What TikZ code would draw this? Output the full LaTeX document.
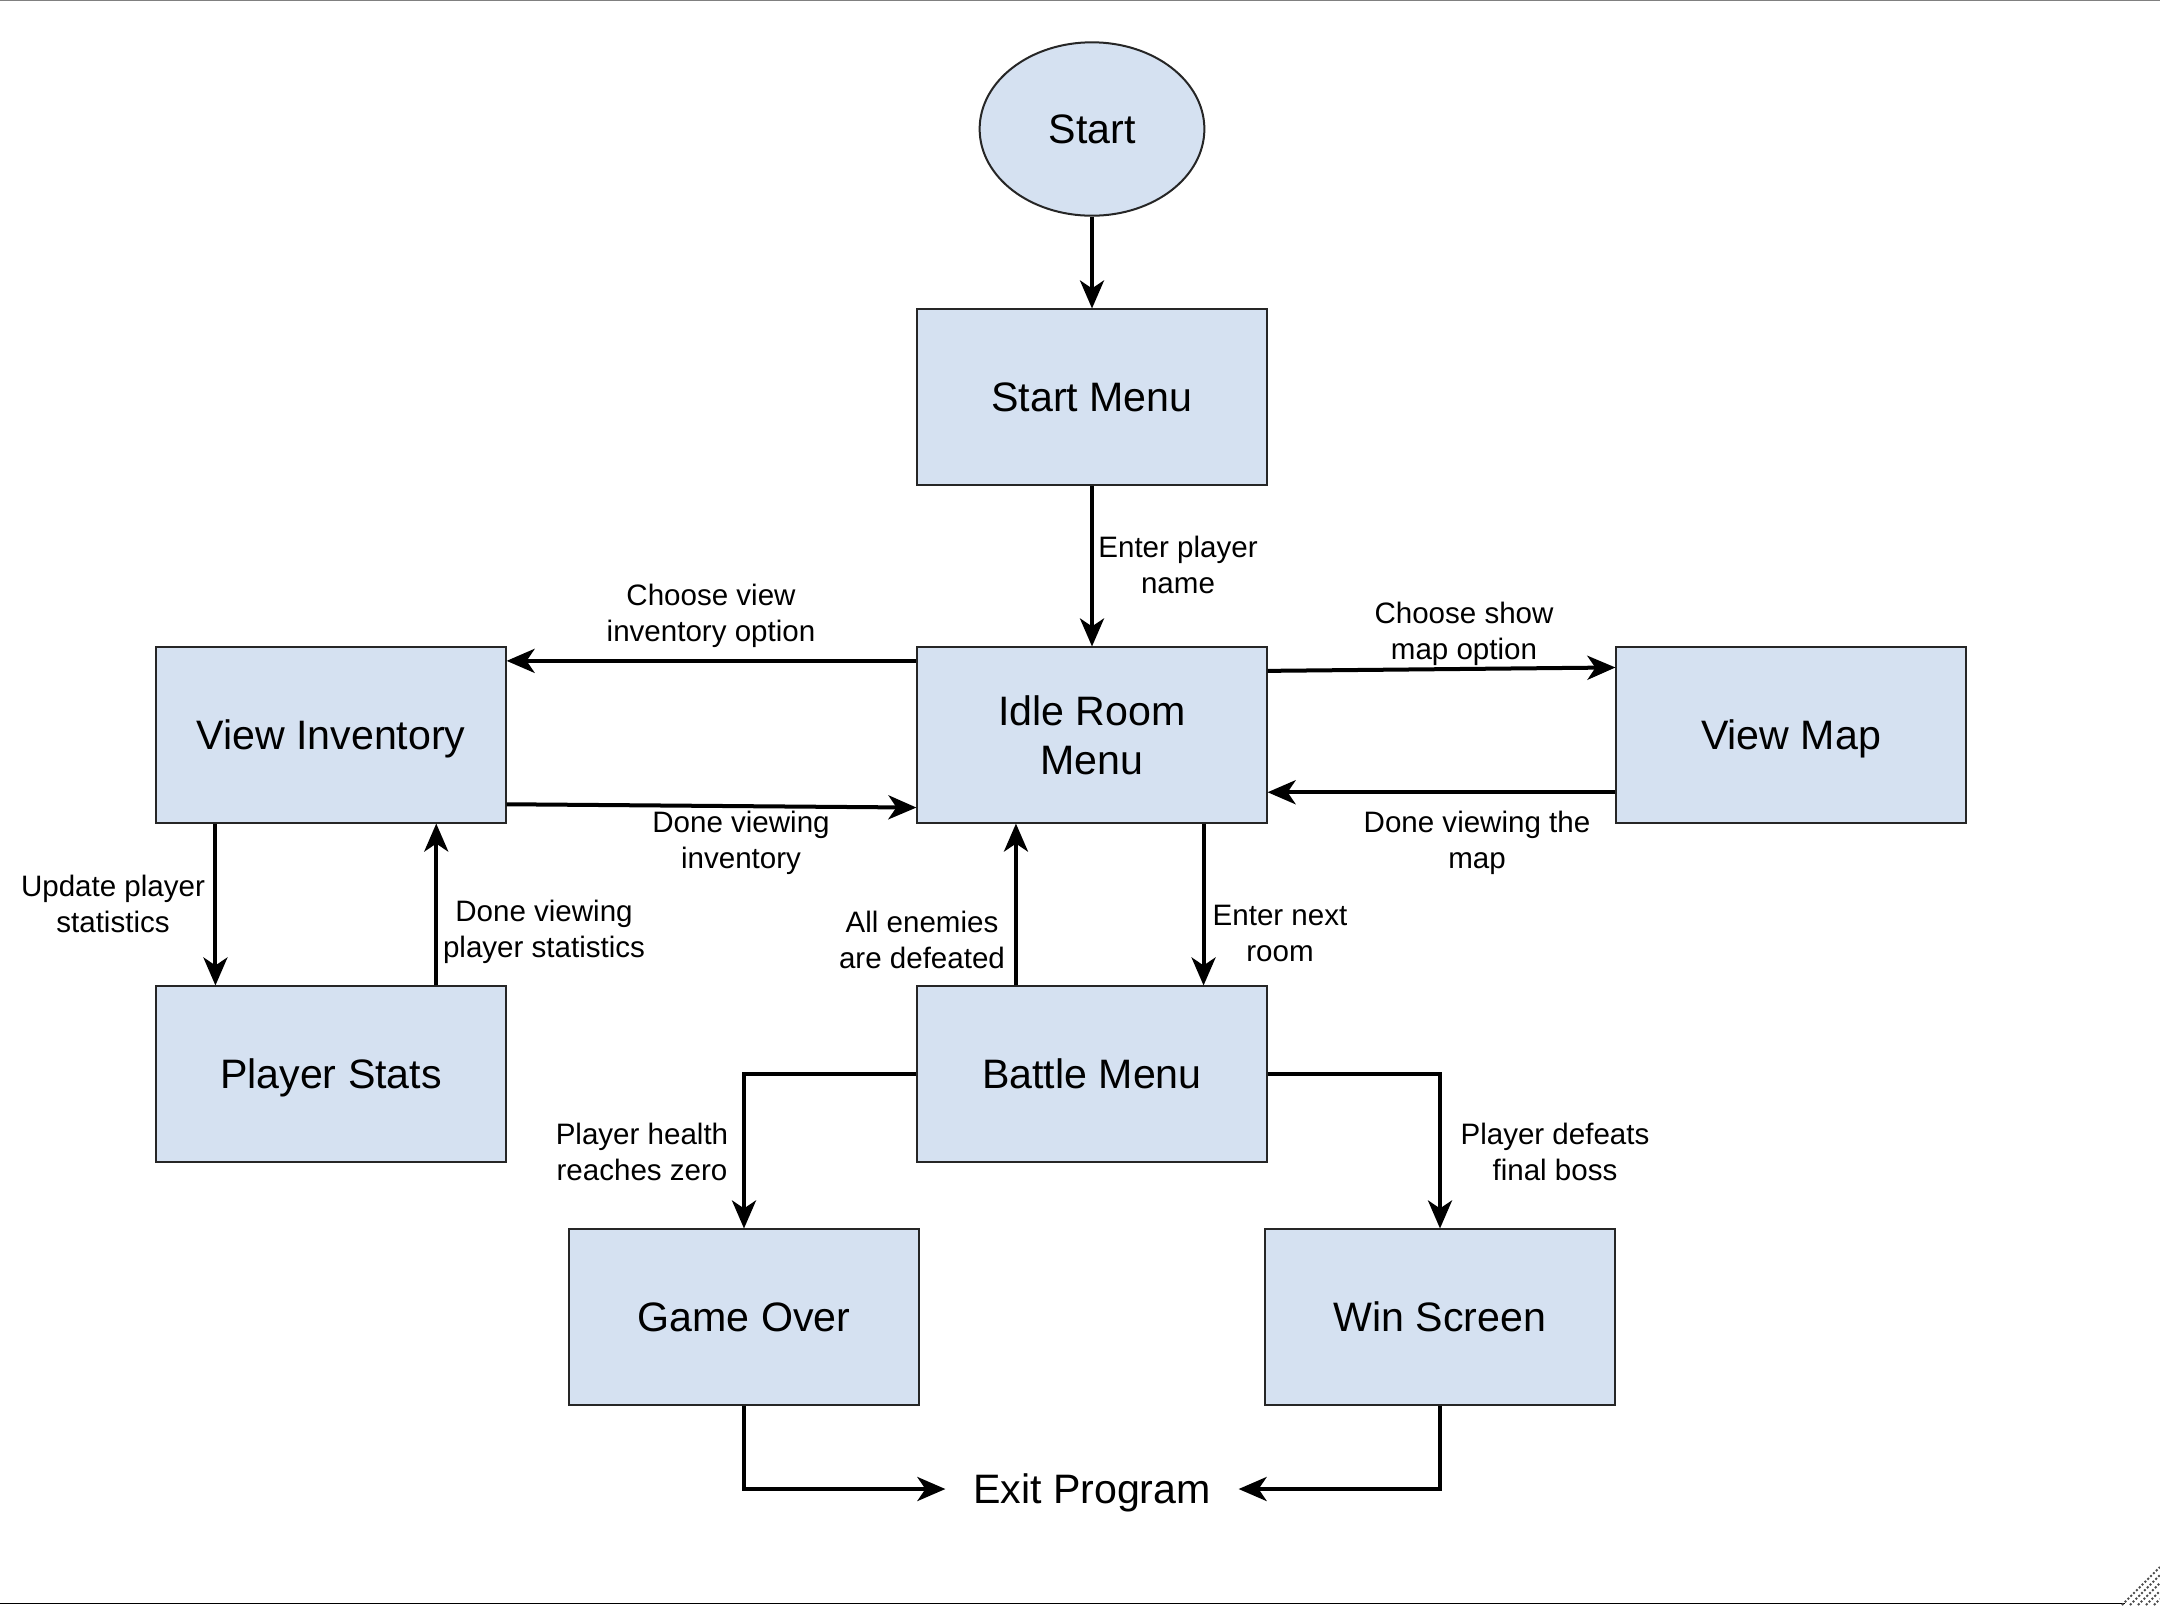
\documentclass[tikz,border=0pt]{standalone}
\usepackage{fontspec}
\setmainfont{Liberation Sans}
\usetikzlibrary{arrows.meta,shapes.geometric}

\definecolor{boxblue}{RGB}{213,225,241}
\newcommand{\boxfont}{\fontsize{11.7}{13.7}\selectfont}
\newcommand{\lblfont}{\fontsize{8.4}{10.2}\selectfont}

\begin{document}
\begin{tikzpicture}[x=0.01cm,y=-0.01cm,
  >={Stealth[length=0.28cm,width=0.24cm,inset=0.08cm]},
  statebox/.style={draw=black!85,line width=0.02cm,fill=boxblue,minimum width=3.49cm,
    minimum height=1.75cm,inner sep=0pt,align=center,text depth=0pt,font=\boxfont},
  lbl/.style={align=center,font=\lblfont,text depth=0pt,inner sep=1pt},
  flow/.style={->,line width=0.04cm}]
  \useasboundingbox[fill=white] (0,0) rectangle (2160,1605);
  % window frame
  \draw[black!50,line width=0.015cm] (0,0.5) -- (2160,0.5);
  \draw[line width=0.015cm] (0,1603.5) -- (2125,1603.5);
  \foreach \d in {6,14,22,30,38}
    \draw[black!70,line width=0.02cm,dash pattern=on 0.02cm off 0.02cm] (2160-\d,1605) -- (2160,1605-\d);
  % states
  \node[statebox,ellipse,minimum width=2.246cm,minimum height=1.733cm] (start) at (1092,129) {Start};
  \node[statebox] (startmenu) at (1092,397) {Start Menu};
  \node[statebox] (idle) at (1092,735) {Idle Room\\Menu};
  \node[statebox] (inv) at (331,735) {View Inventory};
  \node[statebox] (map) at (1791,735) {View Map};
  \node[statebox] (stats) at (331,1074) {Player Stats};
  \node[statebox] (battle) at (1092,1074) {Battle Menu};
  \node[statebox] (over) at (744,1317) {Game Over};
  \node[statebox] (win) at (1440,1317) {Win Screen};
  \node[font=\boxfont,text depth=0pt,inner xsep=0.27cm] (exit) at (1092,1489) {Exit Program};
  % transitions
  \draw[flow] (start) -- (startmenu);
  \draw[flow] (startmenu) -- (idle);
  \draw[flow] ([yshift=-0.144cm]idle.north west) -- ([yshift=-0.144cm]inv.north east);
  \draw[flow] ([yshift=0.193cm]inv.south east) -- ([yshift=0.16cm]idle.south west);
  \draw[flow] ([yshift=-0.244cm]idle.north east) -- ([yshift=-0.21cm]map.north west);
  \draw[flow] ([yshift=0.313cm]map.south west) -- ([yshift=0.313cm]idle.south east);
  \draw[flow] ([xshift=0.6cm]inv.south west) -- ([xshift=0.6cm]stats.north west);
  \draw[flow] ([xshift=-0.703cm]stats.north east) -- ([xshift=-0.703cm]inv.south east);
  \draw[flow] ([xshift=0.995cm]battle.north west) -- ([xshift=0.995cm]idle.south west);
  \draw[flow] ([xshift=-0.64cm]idle.south east) -- ([xshift=-0.64cm]battle.north east);
  \draw[flow] (battle.west) -| (over.north);
  \draw[flow] (battle.east) -| (win.north);
  \draw[flow] (over.south) |- (exit.west);
  \draw[flow] (win.south) |- (exit.east);
  % labels
  \node[lbl] (lname) at (1178,565) {Enter player\\name};
  \node[lbl] (linvopt) at (711,613) {Choose view\\inventory option};
  \node[lbl] (lmapopt) at (1464,631) {Choose show\\map option};
  \node[lbl] (linvdone) at (741,840) {Done viewing\\inventory};
  \node[lbl] (lmapdone) at (1477,840) {Done viewing the\\map};
  \node[lbl] (lupdate) at (113,904) {Update player\\statistics};
  \node[lbl] (lstatsdone) at (544,929) {Done viewing\\player statistics};
  \node[lbl] (lwon) at (922,940) {All enemies\\are defeated};
  \node[lbl] (lnext) at (1280,933) {Enter next\\room};
  \node[lbl] (lhealth) at (642,1152) {Player health\\reaches zero};
  \node[lbl] (lboss) at (1555,1152) {Player defeats\\final boss};
\end{tikzpicture}
\end{document}
